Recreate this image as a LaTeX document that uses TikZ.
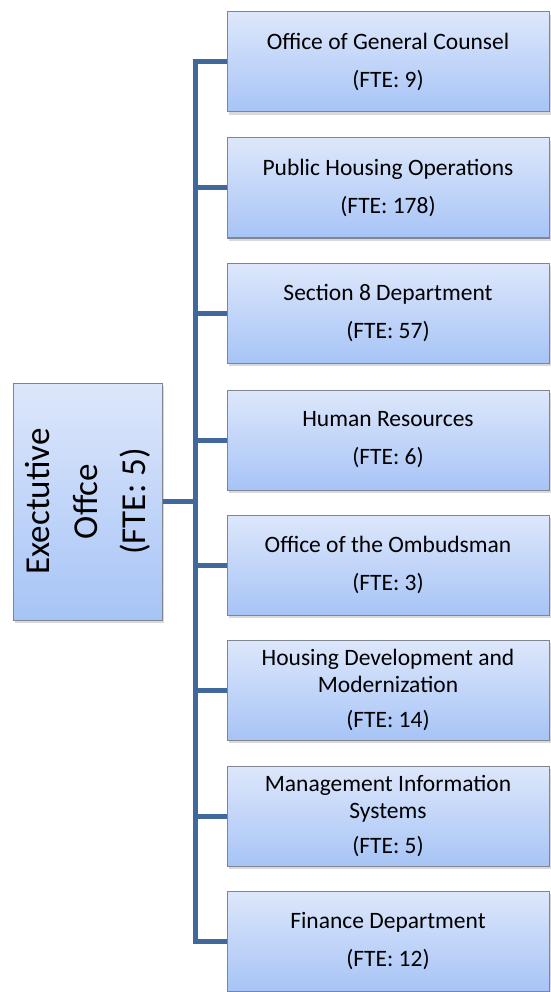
\documentclass[tikz,border=0pt]{standalone}
\usepackage{fontspec}
\setmainfont{Carlito}
\usetikzlibrary{shadows}
\definecolor{boxtop}{RGB}{221,231,251}
\definecolor{boxbot}{RGB}{167,196,246}
\definecolor{boxline}{RGB}{128,134,145}
\definecolor{trunkblue}{RGB}{65,104,156}
\begin{document}
\begin{tikzpicture}[x=1pt,y=-1pt,
    dept/.style={draw=boxline, line width=1pt, top color=boxtop, bottom color=boxbot,
      minimum width=322pt, minimum height=100pt, inner sep=0pt, align=center,
      font=\fontsize{23.5}{27}\selectfont,
      drop shadow={shadow xshift=2pt, shadow yshift=-3pt, opacity=.3}},
    trunk/.style={draw=trunkblue, line width=5pt, line join=miter}]
    \useasboundingbox (0,0) rectangle (550,992);
    \def\ya{62}; \def\yb{188}; \def\yc{313}; \def\yd{440};
    \def\ye{565}; \def\yf{690}; \def\yg{816}; \def\yh{941};
    \def\bx{388}; \def\tx{195};

    % branch lines behind the boxes
    \coordinate (TA) at (\tx,\ya); \coordinate (TH) at (\tx,\yh);
    \coordinate (TX) at (\tx,501.5);

    \node[dept] (A) at (\bx,\ya) {Office of General Counsel\\[11pt](FTE: 9)};
    \node[dept] (B) at (\bx,\yb) {Public Housing Operations\\[11pt](FTE: 178)};
    \node[dept] (C) at (\bx,\yc) {Section 8 Department\\[11pt](FTE: 57)};
    \node[dept] (D) at (\bx,\yd) {Human Resources\\[11pt](FTE: 6)};
    \node[dept] (E) at (\bx,\ye) {Office of the Ombudsman\\[11pt](FTE: 3)};
    \node[dept] (F) at (\bx,\yf) {Housing Development and\\Modernization\\[8pt](FTE: 14)};
    \node[dept] (G) at (\bx,\yg) {Management Information\\Systems\\[8pt](FTE: 5)};
    \node[dept] (H) at (\bx,\yh) {Finance Department\\[11pt](FTE: 12)};

    \node[dept, minimum width=237pt, minimum height=149pt, rotate=90,
      font=\fontsize{35}{48}\selectfont] (EO) at (87.5,501.5) {Exectutive\\Offce\\(FTE: 5)};

    \draw[trunk] (A.west) -- (TA) -- (TH) -- (H.west);
    \draw[trunk] (\tx,\yb) -- (B.west); \draw[trunk] (\tx,\yc) -- (C.west);
    \draw[trunk] (\tx,\yd) -- (D.west); \draw[trunk] (\tx,\ye) -- (E.west);
    \draw[trunk] (\tx,\yf) -- (F.west); \draw[trunk] (\tx,\yg) -- (G.west);
    \draw[trunk] (EO.south |- TX) -- (TX);
  \end{tikzpicture}
\end{document}
